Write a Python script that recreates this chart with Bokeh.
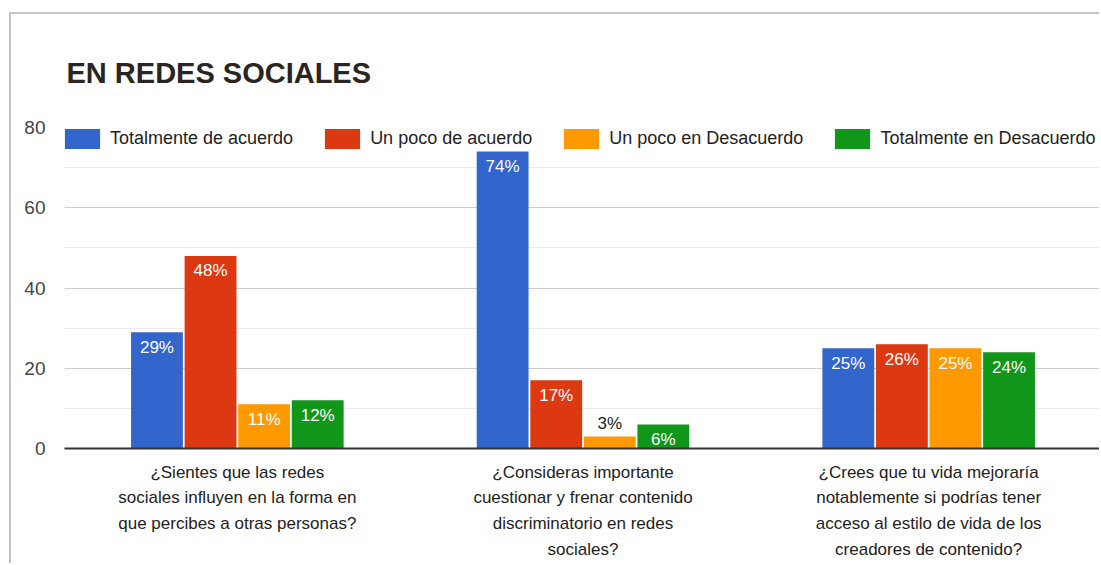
from bokeh.plotting import figure
from bokeh.models import ColumnDataSource, FactorRange, FixedTicker, Legend, LegendItem
from bokeh.transform import dodge
from bokeh.core.properties import value
from bokeh.embed import file_html
from bokeh.resources import INLINE

# ---- data ----
title_text = "EN REDES SOCIALES"
questions = [
    "¿Sientes que las redes\nsociales influyen en la forma en\nque percibes a otras personas?",
    "¿Consideras importante\ncuestionar y frenar contenido\ndiscriminatorio en redes\nsociales?",
    "¿Crees que tu vida mejoraría\nnotablemente si podrías tener\nacceso al estilo de vida de los\ncreadores de contenido?",
]
series_names = [
    "Totalmente de acuerdo",
    "Un poco de acuerdo",
    "Un poco en Desacuerdo",
    "Totalmente en Desacuerdo",
]
totalmente_acuerdo = [29, 74, 25]
poco_acuerdo = [48, 17, 26]
poco_desacuerdo = [11, 3, 25]
totalmente_desacuerdo = [12, 6, 24]
series_values = [totalmente_acuerdo, poco_acuerdo, poco_desacuerdo, totalmente_desacuerdo]
y_ticks = [0, 20, 40, 60, 80]
y_minor_ticks = [10, 30, 50, 70]

# ---- style ----
colors = ["#3366cc", "#dc3912", "#ff9900", "#109618"]
offsets = [-0.2325, -0.0775, 0.0775, 0.2325]
bar_w = 0.15
FONT = "Liberation Sans"

p = figure(
    x_range=FactorRange(*questions, range_padding=0),
    y_range=(0, 80),
    width=1090, height=551,
    output_backend="svg", toolbar_location=None,
    min_border_left=53, min_border_right=0,
    min_border_top=112, min_border_bottom=117,
    background_fill_color="white", border_fill_color="white",
)
p.margin = (12, 0, 0, 9)
p.styles = {"border-left": "2px solid #c4c4c4", "border-top": "2px solid #c4c4c4"}
p.outline_line_color = None

p.title.text = title_text
p.title.text_font = FONT
p.title.text_font_size = "29px"
p.title.text_font_style = "bold"
p.title.text_color = "#2a2523"
p.title.align = "left"
p.title.vertical_align = "top"
p.title.offset = 2
p.title.standoff = 74
p.title.padding = (0, 0, 5, 0)

items = []
for name, vals, col, off in zip(series_names, series_values, colors, offsets):
    inside = [v * 4.0 > 20 for v in vals]
    src = ColumnDataSource(dict(
        q=questions,
        v=vals,
        lab=[f"{v}%" for v in vals],
        yo=[15 if ins else -13 for ins in inside],
        tc=["white" if ins else "#222222" for ins in inside],
    ))
    r = p.vbar(x=dodge("q", off, range=p.x_range), top="v", width=bar_w,
               source=src, fill_color=col, line_color=None)
    p.text(x=dodge("q", off, range=p.x_range), y="v", text="lab", source=src,
           y_offset="yo", text_color="tc", text_align="center",
           text_baseline="middle", text_font=value(FONT), text_font_size="17px")
    items.append(LegendItem(label=name, renderers=[r]))

legend = Legend(items=items, location=(-4, 297), orientation="horizontal",
                glyph_width=44, glyph_height=25, label_height=25,
                label_standoff=6, spacing=27, padding=0, margin=0,
                label_text_font=FONT, label_text_font_size="18px",
                label_text_color="#222222", background_fill_alpha=0,
                border_line_color=None)
p.add_layout(legend)

# y axis
p.yaxis.ticker = FixedTicker(ticks=y_ticks, minor_ticks=y_minor_ticks)
p.yaxis.axis_line_color = None
p.yaxis.major_tick_line_color = None
p.yaxis.minor_tick_line_color = None
p.yaxis.major_tick_out = 0
p.yaxis.minor_tick_out = 0
p.yaxis.major_label_standoff = 19
p.yaxis.major_label_text_font = FONT
p.yaxis.major_label_text_font_size = "19px"
p.yaxis.major_label_text_color = "#444444"

p.ygrid.grid_line_color = "#cccccc"
p.ygrid.minor_grid_line_color = "#ebebeb"
p.xgrid.grid_line_color = None

# x axis
p.xaxis.axis_line_color = "#333333"
p.xaxis.axis_line_width = 2
p.xaxis.major_tick_line_color = None
p.xaxis.major_tick_out = 0
p.xaxis.major_label_standoff = 14
p.xaxis.major_label_text_font = FONT
p.xaxis.major_label_text_font_size = "17px"
p.xaxis.major_label_text_line_height = 1.36
p.xaxis.major_label_text_color = "#222222"

open("out.html", "w").write(file_html(p, INLINE))
